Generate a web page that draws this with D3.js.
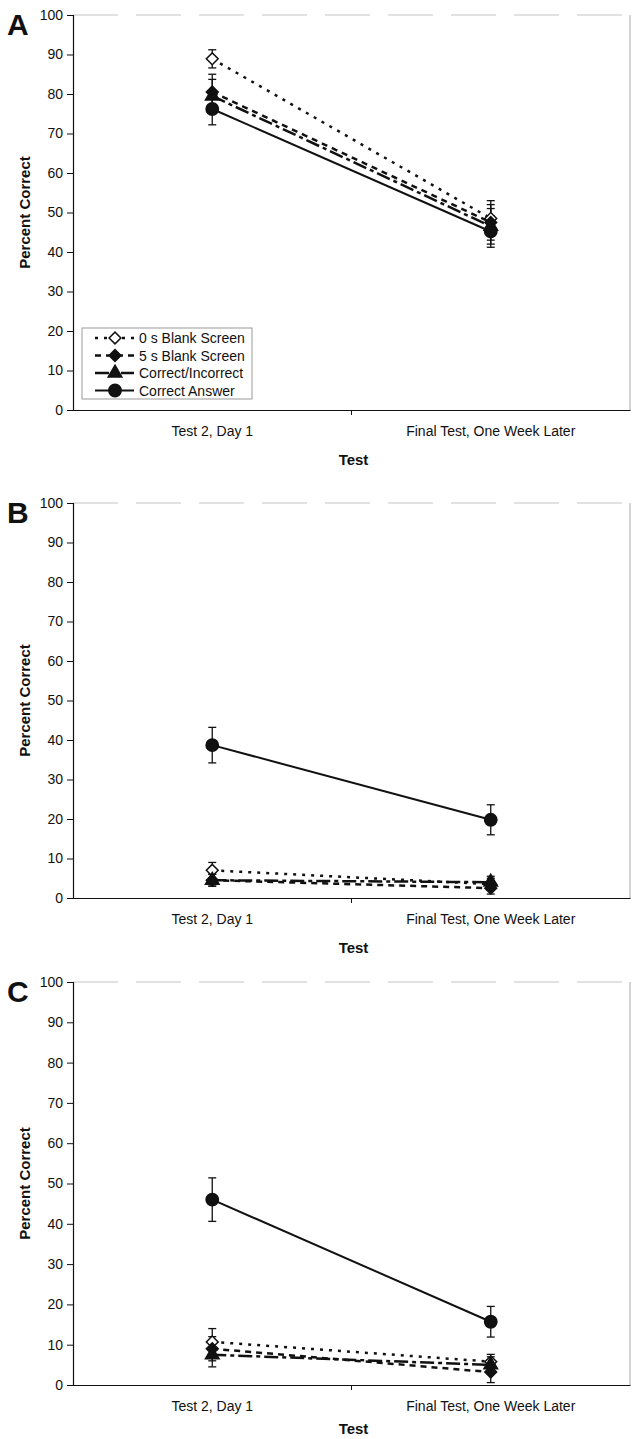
<!DOCTYPE html>
<html>
<head>
<meta charset="utf-8">
<script src="https://cdn.jsdelivr.net/npm/d3@7"></script>
<style>
  body { margin: 0; background: #fff; }
  text { font-family: Arial, "Liberation Sans", sans-serif; fill: #111; }
</style>
</head>
<body>
<svg id="chart" width="633" height="1439"></svg>
<script>
var categories = ["Test 2, Day 1", "Final Test, One Week Later"];
var seriesNames = ["0 s Blank Screen", "5 s Blank Screen", "Correct/Incorrect", "Correct Answer"];
var yTicks = [0, 10, 20, 30, 40, 50, 60, 70, 80, 90, 100];
var panelLabels = ["A", "B", "C"];

// means per series [Test 2, Final Test]
var meansA = [[88.9, 48.5], [80.5, 47.5], [79.5, 46.5], [76.2, 45.2]];
var errA   = [[2.3, 4.5],   [4.5, 4.5],   [4.2, 4.5],   [4.0, 4.0]];
var meansB = [[7.0, 3.5],   [4.5, 2.5],   [4.5, 4.0],   [38.7, 19.8]];
var errB   = [[2.0, 1.5],   [1.5, 1.5],   [1.5, 1.5],   [4.5, 3.8]];
var meansC = [[10.7, 5.8],  [9.0, 3.2],   [7.5, 5.0],   [46.0, 15.7]];
var errC   = [[3.3, 1.8],   [3.0, 2.6],   [3.0, 2.0],   [5.4, 3.8]];

var svg = d3.select('#chart');

var panels = [
    {label: panelLabels[0], means: meansA, errs: errA, top: 15, height: 395, titleGap: 55, legend: true},
    {label: panelLabels[1], means: meansB, errs: errB, top: 503, height: 395, titleGap: 55, legend: false},
    {label: panelLabels[2], means: meansC, errs: errC, top: 982, height: 403, titleGap: 49, legend: false}
];

var left = 73, right = 630;

// line style + marker for each series
var dashes = ['3,6', '6,5', '14,4,4,4', null];
var lineWidths = [2.5, 2.5, 2.5, 2];
var symbols = [
    {type: d3.symbolSquare, size: 70, rotate: 45, fill: '#fff'},
    {type: d3.symbolSquare, size: 70, rotate: 45, fill: '#111'},
    {type: d3.symbolTriangle, size: 80, rotate: 0, fill: '#111'},
    {type: d3.symbolCircle, size: 120, rotate: 0, fill: '#111'}
];

function drawMarker(sel, i) {
    sel.append('path')
        .attr('d', d3.symbol().type(symbols[i].type).size(symbols[i].size)())
        .attr('fill', symbols[i].fill)
        .attr('stroke', '#111')
        .attr('stroke-width', 1.5);
}

panels.forEach(function (p) {
    var g = svg.append('g');

    var x = d3.scaleBand().domain(categories).range([left, right]);
    var y = d3.scaleLinear().domain([0, 100]).range([p.top + p.height, p.top]);
    var cx = function (c) { return x(c) + x.bandwidth() / 2; };

    // faint top and right frame
    g.append('line')
        .attr('x1', left).attr('x2', right)
        .attr('y1', y(100)).attr('y2', y(100))
        .attr('stroke', '#c4c4c4').attr('stroke-width', 1)
        .attr('stroke-dasharray', '45,18');
    g.append('line')
        .attr('x1', right).attr('x2', right)
        .attr('y1', y(100)).attr('y2', y(0))
        .attr('stroke', '#aaa').attr('stroke-width', 1);

    // y axis
    var yAxis = g.append('g')
        .attr('transform', 'translate(' + left + ',0)')
        .call(d3.axisLeft(y).tickValues(yTicks).tickSize(6).tickPadding(4));
    yAxis.select('.domain').attr('stroke', '#111').attr('stroke-width', 1.2);
    yAxis.selectAll('.tick line').attr('stroke', '#111');
    yAxis.selectAll('.tick text').style('font-size', '14px');

    // x axis
    var xAxis = g.append('g')
        .attr('transform', 'translate(0,' + y(0) + ')')
        .call(d3.axisBottom(x).tickSize(0).tickPadding(16));
    xAxis.select('.domain').attr('stroke', '#111').attr('stroke-width', 1.2);
    xAxis.selectAll('.tick text').style('font-size', '14px');
    xAxis.append('line')
        .attr('x1', x(categories[1])).attr('x2', x(categories[1]))
        .attr('y1', 0).attr('y2', 5)
        .attr('stroke', '#111');

    // axis titles
    g.append('text')
        .attr('x', (left + right) / 2 + 2)
        .attr('y', y(0) + p.titleGap)
        .attr('text-anchor', 'middle')
        .style('font-size', '15px').style('font-weight', 'bold')
        .text('Test');
    g.append('text')
        .attr('transform', 'translate(30,' + (p.top + p.height / 2) + ') rotate(-90)')
        .attr('text-anchor', 'middle')
        .style('font-size', '15px').style('font-weight', 'bold')
        .text('Percent Correct');

    // panel letter
    g.append('text')
        .attr('x', 7).attr('y', p.top + 20)
        .style('font-size', '30px').style('font-weight', 'bold')
        .text(p.label);

    var line = d3.line()
        .x(function (d, j) { return cx(categories[j]); })
        .y(function (d) { return y(d); });

    // lines
    p.means.forEach(function (vals, i) {
        g.append('path')
            .attr('d', line(vals))
            .attr('fill', 'none')
            .attr('stroke', '#111')
            .attr('stroke-width', lineWidths[i])
            .attr('stroke-dasharray', dashes[i]);
    });

    // error bars
    p.means.forEach(function (vals, i) {
        vals.forEach(function (v, j) {
            var px = cx(categories[j]), e = p.errs[i][j];
            var eb = g.append('g').attr('stroke', '#111').attr('stroke-width', 1.3);
            eb.append('line').attr('x1', px).attr('x2', px).attr('y1', y(v - e)).attr('y2', y(v + e));
            eb.append('line').attr('x1', px - 4).attr('x2', px + 4).attr('y1', y(v - e)).attr('y2', y(v - e));
            eb.append('line').attr('x1', px - 4).attr('x2', px + 4).attr('y1', y(v + e)).attr('y2', y(v + e));
        });
    });

    // markers
    p.means.forEach(function (vals, i) {
        vals.forEach(function (v, j) {
            var m = g.append('g')
                .attr('transform', 'translate(' + cx(categories[j]) + ',' + y(v) + ') rotate(' + symbols[i].rotate + ')');
            drawMarker(m, i);
        });
    });

    // legend
    if (p.legend) {
        var lg = g.append('g');
        lg.append('rect')
            .attr('x', 82).attr('y', 328).attr('width', 170).attr('height', 71)
            .attr('fill', '#fff').attr('stroke', '#999').attr('stroke-width', 1);
        seriesNames.forEach(function (name, i) {
            var ly = 338 + i * 17.5;
            lg.append('line')
                .attr('x1', 95).attr('x2', 134).attr('y1', ly).attr('y2', ly)
                .attr('stroke', '#111').attr('stroke-width', lineWidths[i])
                .attr('stroke-dasharray', dashes[i]);
            var m = lg.append('g')
                .attr('transform', 'translate(115,' + ly + ') rotate(' + symbols[i].rotate + ')');
            drawMarker(m, i);
            lg.append('text')
                .attr('x', 139).attr('y', ly + 5)
                .style('font-size', '14px')
                .text(name);
        });
    }
});
</script>
</body>
</html>
